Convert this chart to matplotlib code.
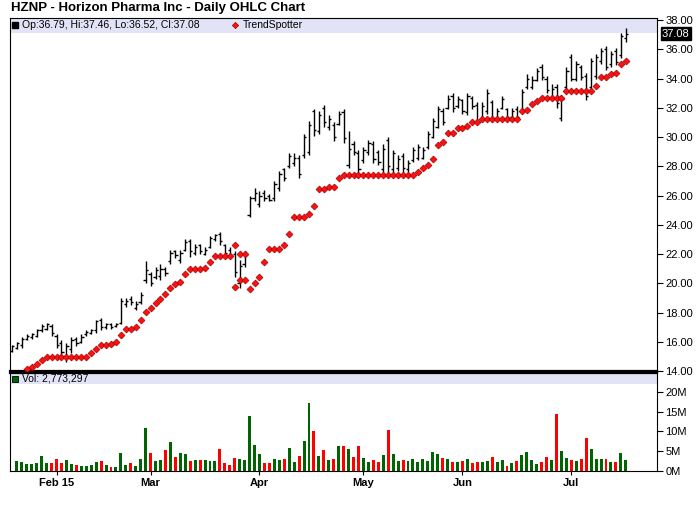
import numpy as np
import matplotlib
matplotlib.use("Agg")
import matplotlib.pyplot as plt
from matplotlib.collections import LineCollection
from matplotlib.patches import Rectangle
from matplotlib.lines import Line2D
import matplotlib.transforms as mtransforms

plt.rcParams['font.family'] = ['Liberation Sans', 'DejaVu Sans']

nan = np.nan
title = "HZNP - Horizon Pharma Inc - Daily OHLC Chart"
month_pos = [9, 28, 50, 71, 91, 113]
month_labels = ["Feb 15", "Mar", "Apr", "May", "Jun", "Jul"]
price_ticks = [14, 16, 18, 20, 22, 24, 26, 28, 30, 32, 34, 36, 38]
vol_ticks = [0, 5, 10, 15, 20]
vol_tick_labels = ["0M", "5M", "10M", "15M", "20M"]

opens = [15.4,15.6,15.8,16.2,16.3,16.4,16.8,16.9,17.1,16.4,
         15.9,15.0,15.5,16.2,16.0,16.5,16.6,16.8,17.5,17.0,
         17.2,17.1,17.3,18.6,18.9,18.3,18.7,20.2,20.6,20.4,
         20.5,21.0,21.5,22.2,21.6,22.3,22.9,22.1,22.6,22.0,
         22.5,23.0,23.4,22.6,22.3,22.0,20.0,21.3,24.7,25.8,
         25.4,26.2,26.0,25.8,26.5,27.8,28.0,28.2,28.6,28.8,
         29.0,31.8,30.4,32.0,30.7,30.8,30.9,31.7,28.1,29.5,
         28.9,28.4,29.0,29.5,29.0,27.8,29.8,27.8,27.9,28.7,
         27.8,28.4,28.6,28.6,29.3,30.0,30.7,31.8,32.0,32.8,
         32.1,32.5,31.7,32.7,32.2,31.2,31.8,32.4,31.3,32.0,
         31.9,31.4,31.9,31.8,33.4,33.4,33.9,34.8,34.0,32.7,
         33.4,31.3,33.4,35.5,34.0,34.8,34.2,33.4,34.2,35.2,
         36.0,35.0,35.9,35.6,36.79]
highs = [15.8,16.0,16.3,16.5,16.6,16.9,17.2,17.3,17.2,16.5,
         16.1,15.9,16.3,16.3,16.5,16.8,16.9,17.5,17.6,17.3,
         17.3,17.3,19.0,19.0,19.1,18.8,19.4,21.5,20.8,21.1,
         21.3,21.1,22.3,22.3,22.3,23.0,23.0,22.7,22.7,22.5,
         23.2,23.4,23.5,22.7,22.5,22.2,21.6,22.2,26.0,26.5,
         26.3,26.4,26.1,27.0,27.7,27.9,28.9,28.9,28.8,30.2,
         31.1,31.9,31.8,32.2,31.5,31.0,31.8,31.9,30.4,29.7,
         29.1,29.3,29.8,29.7,29.1,29.5,30.0,29.1,28.8,28.9,
         28.4,29.3,29.5,29.3,30.4,31.3,32.1,32.0,32.9,33.0,
         32.8,32.6,33.0,32.8,32.4,32.4,33.3,32.5,32.0,32.8,
         32.0,32.0,32.1,33.3,34.3,34.2,34.7,35.0,34.2,33.6,
         33.6,32.9,34.8,35.7,35.2,34.9,34.4,35.4,35.7,36.1,
         36.2,35.9,36.1,37.1,37.46]
lows = [15.3,15.5,15.6,16.1,16.2,16.3,16.7,16.8,16.4,15.6,
        15.0,14.6,15.2,15.7,15.9,16.4,16.5,16.6,16.8,16.9,
        16.9,17.0,17.2,18.4,18.5,18.2,18.6,20.0,19.8,20.3,
        20.2,20.5,21.3,21.7,21.4,22.2,21.8,21.9,22.0,21.9,
        22.4,22.9,22.6,21.9,21.7,20.4,19.7,21.1,24.5,25.6,
        25.2,25.6,25.6,25.6,26.3,27.0,27.9,28.0,27.2,28.6,
        28.8,30.1,30.2,30.7,30.5,29.7,30.8,29.6,27.9,28.8,
        27.4,28.2,28.8,28.2,28.1,27.6,27.6,27.6,27.7,27.6,
        27.6,28.3,28.4,28.5,29.2,29.9,30.6,30.8,31.9,31.7,
        32.0,31.6,31.5,31.9,30.8,31.0,31.6,31.0,31.2,31.9,
        31.2,31.3,31.2,31.7,33.3,33.3,33.8,33.9,33.0,32.5,
        32.0,31.1,33.2,33.8,33.8,33.9,32.5,33.2,34.0,35.0,
        34.6,34.8,34.9,35.4,36.52]
closes = [15.7,15.9,16.2,16.4,16.5,16.8,17.1,17.2,16.6,15.8,
          15.3,15.7,16.1,15.9,16.3,16.7,16.8,17.4,17.0,17.2,
          17.0,17.2,18.8,18.8,18.7,18.6,19.2,20.9,20.0,20.9,
          21.0,20.7,22.1,21.9,22.1,22.8,22.2,22.5,22.2,22.3,
          23.1,23.3,22.9,22.1,21.9,20.8,21.2,21.9,25.8,26.2,
          26.0,25.8,25.7,26.8,27.5,27.2,28.7,28.6,27.5,30.0,
          30.8,30.5,31.5,31.0,31.2,30.0,31.6,29.9,29.2,29.0,
          27.8,29.1,29.6,28.5,28.3,29.2,28.0,28.9,28.5,27.9,
          28.2,29.1,29.3,29.1,30.2,31.1,31.9,31.0,32.6,32.0,
          32.6,31.8,32.8,32.1,31.0,32.1,33.0,31.3,31.8,32.6,
          31.4,31.8,31.4,33.1,34.0,33.9,34.5,34.1,33.2,33.3,
          32.3,32.6,34.5,34.0,35.0,34.1,32.8,35.2,35.5,35.9,
          34.8,35.7,35.1,36.9,37.08]
volume_m = [nan,2.6,2.4,1.8,1.8,2.0,3.8,2.0,2.0,3.0,
            2.0,2.8,1.8,1.5,1.3,1.3,1.5,2.3,2.5,1.5,
            1.0,1.0,4.6,1.5,2.0,1.3,3.0,10.9,4.6,2.5,
            2.8,5.3,7.3,3.5,4.6,4.3,2.5,2.8,2.8,2.8,
            2.5,2.5,5.6,2.0,1.5,3.3,3.0,2.8,13.9,6.6,
            4.3,2.0,2.0,3.0,2.8,3.0,5.8,2.3,3.8,7.6,
            17.2,10.1,3.8,5.3,2.8,3.0,6.3,6.3,5.6,3.5,
            6.3,3.3,2.3,2.8,2.3,4.1,10.4,4.3,2.5,2.8,
            2.5,3.0,2.3,3.0,2.5,4.8,4.3,3.3,3.0,2.3,
            2.3,2.5,3.0,2.0,2.3,2.3,2.5,3.5,2.3,2.8,
            1.3,2.0,2.5,4.1,4.8,2.8,1.8,2.3,3.5,2.8,
            14.4,5.1,3.3,2.8,2.5,3.0,8.4,5.6,3.0,3.0,
            3.0,2.3,2.3,4.6,2.773297]
trend = [nan,nan,nan,14.14,14.25,14.46,14.76,14.98,14.98,14.98,
         14.98,14.98,14.98,14.98,14.98,14.98,15.21,15.53,15.76,15.76,
         15.83,15.97,16.44,16.86,16.86,16.98,17.47,18.02,18.28,18.64,
         18.90,19.27,19.65,19.94,20.11,20.65,20.96,20.96,20.96,21.03,
         21.43,21.85,21.85,21.85,21.85,19.77,20.22,20.22,19.58,20.00,
         20.45,21.43,22.32,22.32,22.32,22.62,23.34,24.51,24.51,24.51,
         24.73,25.28,26.42,26.42,26.60,26.60,27.17,27.38,27.38,27.38,
         27.38,27.38,27.38,27.38,27.38,27.38,27.38,27.38,27.38,27.38,
         27.38,27.38,27.63,27.86,28.10,28.50,29.43,29.66,30.25,30.25,
         30.60,30.60,30.74,31.00,31.00,31.21,31.21,31.21,31.21,31.21,
         31.21,31.21,31.21,31.78,31.82,32.23,32.46,32.64,32.64,32.64,
         32.64,32.64,33.15,33.15,33.15,33.15,33.15,33.15,33.49,34.10,
         34.10,34.28,34.35,34.97,35.20]
trend_alt_idx = [45, 46, 47]
trend_alt = [22.62, 21.98, 21.98]

W, H = 700, 512
def fx(px): return px / W
def fy(py): return 1 - py / H

fig = plt.figure(figsize=(7, 5.12), dpi=100)
fig.patch.set_facecolor('white')

L, R = 10, 657
axp = fig.add_axes([fx(L), fy(371), fx(R) - fx(L), fy(18) - fy(371)])
axv = fig.add_axes([fx(L), fy(471), fx(R) - fx(L), fy(373) - fy(471)])

n = len(highs)
x = np.arange(n)
xlim = (-0.4, 130.3)

# price panel
axp.add_patch(Rectangle((0, 1 - 15 / 353), 1, 15 / 353, transform=axp.transAxes,
                        facecolor='#e3e3f7', edgecolor='none', zorder=0))
axp.vlines(x, lows, highs, color='black', lw=1.0, zorder=2)
axp.hlines(opens, x - 0.45, x, color='black', lw=1.0, zorder=2)
axp.hlines(closes, x, x + 0.45, color='black', lw=1.0, zorder=2)

def flat_segments(xs, ys):
    segs = []
    for a in range(len(xs) - 1):
        if xs[a + 1] - xs[a] == 1 and not np.isnan(ys[a]) and abs(ys[a] - ys[a + 1]) < 0.02:
            segs.append([(xs[a], ys[a]), (xs[a + 1], ys[a + 1])])
    return segs

tr = np.array(trend, dtype=float)
segs = flat_segments(list(x), list(tr)) + flat_segments(trend_alt_idx, trend_alt)
axp.add_collection(LineCollection(segs, colors='#ee0000', linewidths=0.9, zorder=3))
mk = dict(ls='none', marker='D', ms=3.5, mfc='#ff1010', mec='#a00000', mew=0.5, zorder=4)
axp.plot(x, tr, **mk)
axp.plot(trend_alt_idx, trend_alt, **mk)

axp.set_xlim(*xlim)
axp.set_ylim(14, 38.14)
axp.yaxis.tick_right()
axp.set_yticks(price_ticks)
axp.set_yticklabels([f"{v:.2f}" for v in price_ticks])
axp.tick_params(axis='y', length=4, width=0.8, labelsize=8, pad=2, colors='black')
axp.tick_params(axis='x', bottom=False, labelbottom=False)
for s in axp.spines.values():
    s.set_linewidth(0.8)
axp.spines['bottom'].set_linewidth(1.6)

last_txt = f"{closes[-1]:.2f}"
axp.text(1 + 5 / 647, closes[-1], last_txt,
         transform=mtransforms.blended_transform_factory(axp.transAxes, axp.transData),
         ha='left', va='center', fontsize=8, color='white',
         bbox=dict(boxstyle='square,pad=0.12', fc='black', ec='black'), clip_on=False, zorder=10)

# volume panel
axv.add_patch(Rectangle((0, 1 - 11 / 98), 1, 11 / 98, transform=axv.transAxes,
                        facecolor='#e3e3f7', edgecolor='none', zorder=0))
vcol = ['#006400' if c >= o else '#ff0000' for o, c in zip(opens, closes)]
vol = np.array(volume_m, dtype=float)
axv.bar(x, np.nan_to_num(vol), width=0.6, color=vcol, zorder=2)
axv.set_xlim(*xlim)
axv.set_ylim(0, 24.8)
axv.yaxis.tick_right()
axv.set_yticks(vol_ticks)
axv.set_yticklabels(vol_tick_labels)
axv.tick_params(axis='y', length=4, width=0.8, labelsize=8, pad=2)
axv.set_xticks(month_pos)
axv.set_xticklabels(month_labels, fontweight='bold', fontsize=8)
axv.tick_params(axis='x', length=3, width=0.8, pad=2)
for s in axv.spines.values():
    s.set_linewidth(0.8)
axv.spines['top'].set_linewidth(1.6)

# title and legends
fig.text(fx(11), fy(8), title, fontsize=9.5, fontweight='bold', ha='left', va='center')
fig.add_artist(Line2D([fx(15.5)], [fy(25)], marker='s', ms=4.5, color='black',
                      transform=fig.transFigure))
fig.text(fx(22), fy(25), f"Op:{opens[-1]:.2f}, Hi:{highs[-1]:.2f}, Lo:{lows[-1]:.2f}, Cl:{closes[-1]:.2f}",
         fontsize=7.5, ha='left', va='center')
fig.add_artist(Line2D([fx(235)], [fy(25)], marker='D', ms=3.2, mfc='#ff1010', mec='#a00000',
                      mew=0.5, transform=fig.transFigure))
fig.text(fx(243), fy(25), "TrendSpotter", fontsize=7.5, ha='left', va='center')
fig.add_artist(Line2D([fx(15.5)], [fy(378.5)], marker='s', ms=4.5, mfc='#006400', mec='black',
                      mew=0.6, transform=fig.transFigure))
fig.text(fx(22), fy(378.5), f"Vol: {int(round(volume_m[-1] * 1e6)):,}", fontsize=7.5,
         ha='left', va='center')

fig.savefig("out.png", dpi=100, facecolor='white')
